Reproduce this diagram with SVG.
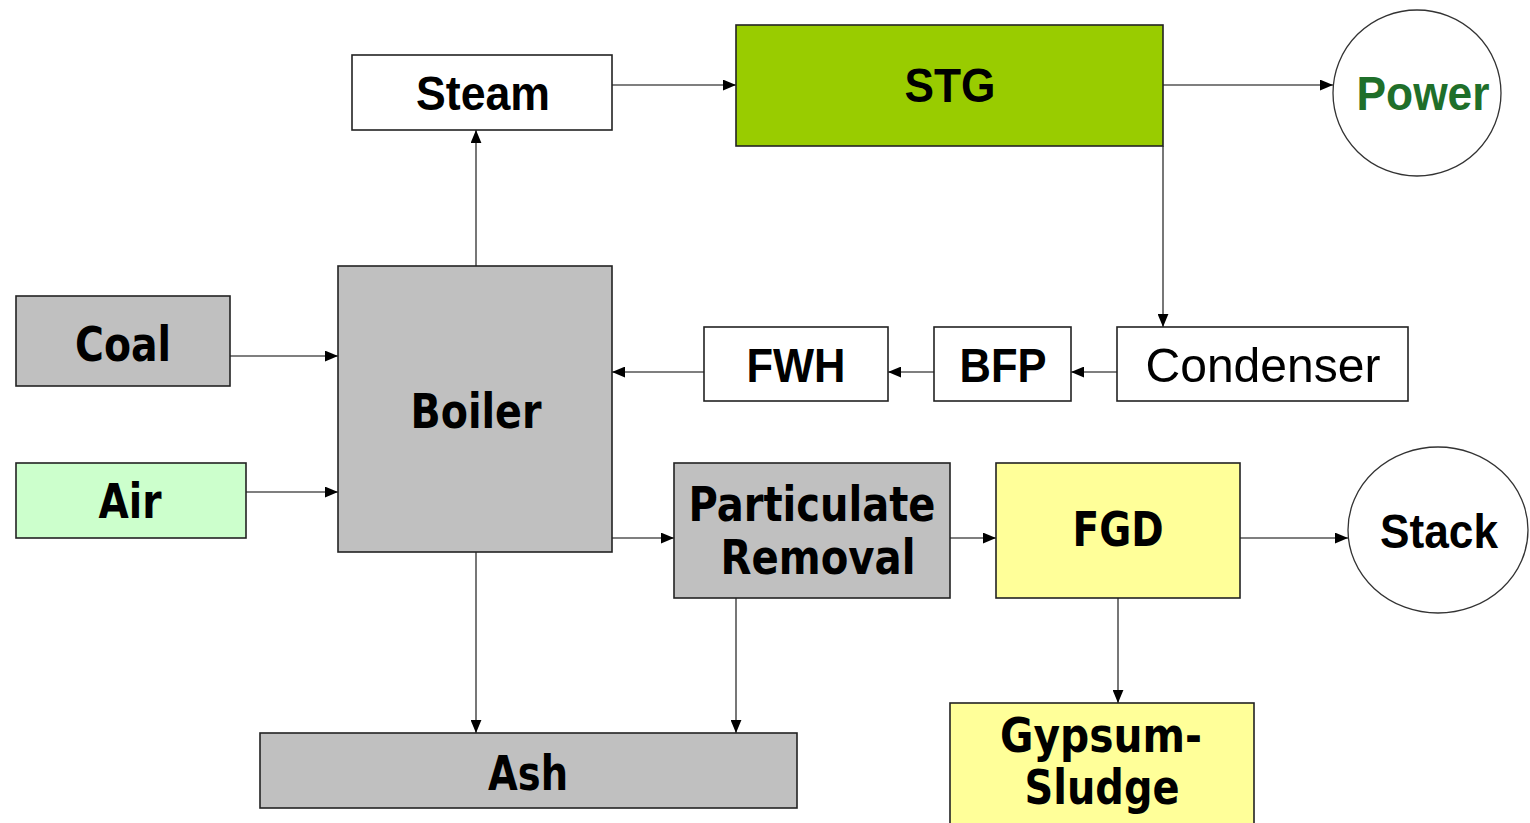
<svg xmlns="http://www.w3.org/2000/svg" width="1530" height="823" viewBox="0 0 1530 823">
<defs>
<style>
.box{stroke:#222;stroke-width:1.6}
.w{fill:#ffffff}.g{fill:#c0c0c0}.stg{fill:#99cc00}.air{fill:#ccffcc}.y{fill:#ffff99}
.t{font-family:"DejaVu Sans","Verdana",sans-serif;font-weight:bold;font-size:48px;fill:#000;text-anchor:middle}
.a{font-family:"Liberation Sans",Arial,sans-serif;font-weight:bold;font-size:49px;fill:#000;text-anchor:middle}
.c{stroke:#555;stroke-width:1.6;fill:none;marker-end:url(#ah)}
</style>
<marker id="ah" viewBox="0 0 12 10" refX="12" refY="5" markerWidth="13" markerHeight="11" markerUnits="userSpaceOnUse" orient="auto">
<path d="M0,0 L12,5 L0,10 Z" fill="#000"/>
</marker>
</defs>
<rect width="1530" height="823" fill="#ffffff"/>
<g id="connectors">
<line class="c" x1="612" y1="85" x2="736" y2="85"/>
<line class="c" x1="1163" y1="85" x2="1333" y2="85"/>
<line class="c" x1="1163" y1="146" x2="1163" y2="327"/>
<line class="c" x1="476" y1="266" x2="476" y2="130"/>
<line class="c" x1="230" y1="356" x2="338" y2="356"/>
<line class="c" x1="246" y1="492" x2="338" y2="492"/>
<line class="c" x1="1117" y1="372" x2="1071" y2="372"/>
<line class="c" x1="934" y1="372" x2="888" y2="372"/>
<line class="c" x1="704" y1="372" x2="612" y2="372"/>
<line class="c" x1="612" y1="538" x2="674" y2="538"/>
<line class="c" x1="950" y1="538" x2="996" y2="538"/>
<line class="c" x1="1240" y1="538" x2="1348" y2="538"/>
<line class="c" x1="476" y1="552" x2="476" y2="733"/>
<line class="c" x1="736" y1="598" x2="736" y2="733"/>
<line class="c" x1="1118" y1="598" x2="1118" y2="703"/>
</g>
<g id="steam"><rect class="box w" x="352" y="55" width="260" height="75"/><text class="a" x="483" y="110" textLength="134" lengthAdjust="spacingAndGlyphs">Steam</text></g>
<g id="stg"><rect class="box stg" x="736" y="25" width="427" height="121"/><text class="a" x="950" y="102" textLength="91" lengthAdjust="spacingAndGlyphs">STG</text></g>
<g id="power"><ellipse class="w" cx="1417" cy="93" rx="84" ry="83" stroke="#333" stroke-width="1.3"/><text class="a" x="1423" y="110" style="fill:#1f6f2a" textLength="133" lengthAdjust="spacingAndGlyphs">Power</text></g>
<g id="coal"><rect class="box g" x="16" y="296" width="214" height="90"/><text class="t" x="123" y="361" textLength="96" lengthAdjust="spacingAndGlyphs">Coal</text></g>
<g id="air"><rect class="box air" x="16" y="463" width="230" height="75"/><text class="t" x="130" y="518" textLength="63" lengthAdjust="spacingAndGlyphs">Air</text></g>
<g id="boiler"><rect class="box g" x="338" y="266" width="274" height="286"/><text class="t" x="476" y="428" textLength="131" lengthAdjust="spacingAndGlyphs">Boiler</text></g>
<g id="fwh"><rect class="box w" x="704" y="327" width="184" height="74"/><text class="a" x="796" y="382" textLength="99" lengthAdjust="spacingAndGlyphs">FWH</text></g>
<g id="bfp"><rect class="box w" x="934" y="327" width="137" height="74"/><text class="a" x="1003" y="382" textLength="87" lengthAdjust="spacingAndGlyphs">BFP</text></g>
<g id="condenser"><rect class="box w" x="1117" y="327" width="291" height="74"/><text class="a" x="1263" y="382" style="font-weight:normal" textLength="235" lengthAdjust="spacingAndGlyphs">Condenser</text></g>
<g id="particulate"><rect class="box g" x="674" y="463" width="276" height="135"/><text class="t" x="812" y="521" textLength="247" lengthAdjust="spacingAndGlyphs">Particulate</text><text class="t" x="818" y="574" textLength="195" lengthAdjust="spacingAndGlyphs">Removal</text></g>
<g id="fgd"><rect class="box y" x="996" y="463" width="244" height="135"/><text class="t" x="1118" y="546" textLength="91" lengthAdjust="spacingAndGlyphs">FGD</text></g>
<g id="stack"><ellipse class="w" cx="1438" cy="530" rx="90" ry="83" stroke="#333" stroke-width="1.3"/><text class="a" x="1439" y="548" textLength="118" lengthAdjust="spacingAndGlyphs">Stack</text></g>
<g id="ash"><rect class="box g" x="260" y="733" width="537" height="75"/><text class="t" x="528" y="790" textLength="80" lengthAdjust="spacingAndGlyphs">Ash</text></g>
<g id="gypsum"><rect class="box y" x="950" y="703" width="304" height="130"/><text class="t" x="1101" y="752" textLength="202" lengthAdjust="spacingAndGlyphs">Gypsum-</text><text class="t" x="1102" y="804" textLength="155" lengthAdjust="spacingAndGlyphs">Sludge</text></g>
</svg>
